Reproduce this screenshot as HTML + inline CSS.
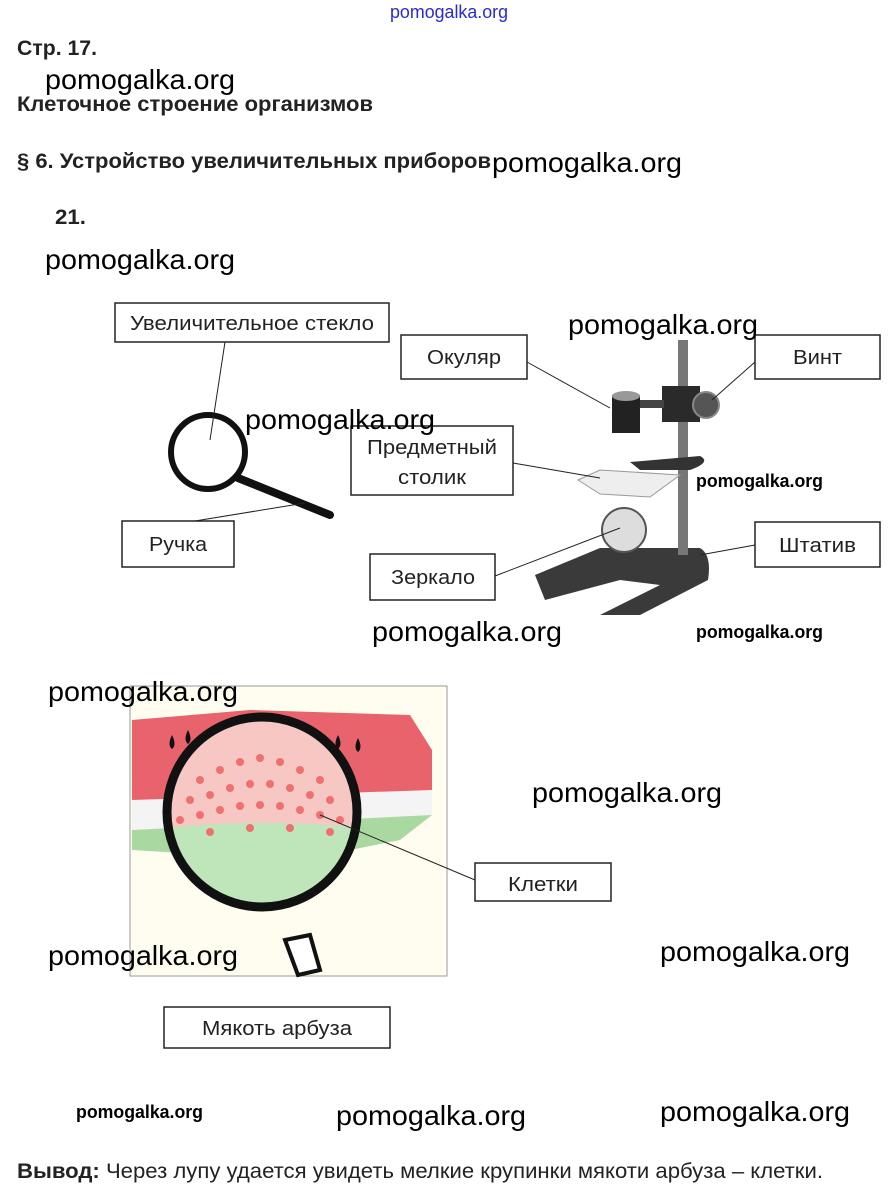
<!DOCTYPE html>
<html><head><meta charset="utf-8"><style>
body{margin:0;background:#fff;}
svg{display:block;font-family:"Liberation Sans",sans-serif;}
.wm{font-size:28px;fill:#000;}
.ws{font-size:18px;font-weight:bold;fill:#000;}
.lb{font-size:20px;fill:#222;}
.h{font-size:21px;font-weight:bold;fill:#222;}
</style></head><body>
<svg width="896" height="1204" viewBox="0 0 896 1204">
<defs><clipPath id="lens"><circle cx="262" cy="812" r="95"/></clipPath></defs>
<rect width="896" height="1204" fill="#fff"/>
<text x="390" y="18" font-size="18" fill="#2a2ad0" textLength="118" lengthAdjust="spacingAndGlyphs">pomogalka.org</text>
<text class="h" x="17" y="55" textLength="80" lengthAdjust="spacingAndGlyphs">Стр. 17.</text>
<text class="wm" x="45" y="89" textLength="190" lengthAdjust="spacingAndGlyphs">pomogalka.org</text>
<text class="h" x="17" y="111" textLength="356" lengthAdjust="spacingAndGlyphs">Клеточное строение организмов</text>
<text class="h" x="17" y="168" textLength="474" lengthAdjust="spacingAndGlyphs">§ 6. Устройство увеличительных приборов</text>
<text class="wm" x="492" y="172" textLength="190" lengthAdjust="spacingAndGlyphs">pomogalka.org</text>
<text class="h" x="55" y="224" textLength="31" lengthAdjust="spacingAndGlyphs">21.</text>
<text class="wm" x="45" y="269" textLength="190" lengthAdjust="spacingAndGlyphs">pomogalka.org</text>

<!-- magnifier -->
<line x1="238" y1="478" x2="330" y2="515" stroke="#111" stroke-width="8" stroke-linecap="round"/>
<circle cx="208" cy="452" r="37" fill="#fff" stroke="#111" stroke-width="6"/>

<!-- microscope -->
<path d="M535 575 L600 548 L700 548 Q712 555 708 580 L640 615 L600 615 L660 585 L620 580 L545 600 Z" fill="#3a3a3a"/>
<rect x="678" y="340" width="10" height="215" fill="#777"/>
<rect x="662" y="386" width="38" height="36" fill="#2a2a2a"/>
<circle cx="706" cy="405" r="13" fill="#555" stroke="#888" stroke-width="2"/>
<rect x="636" y="400" width="28" height="8" fill="#444"/>
<rect x="612" y="395" width="28" height="38" fill="#222"/>
<ellipse cx="626" cy="396" rx="14" ry="5" fill="#999"/>
<path d="M630 462 L700 456 Q712 462 690 470 L640 470 Z" fill="#333"/>
<path d="M578 480 L600 470 L680 475 L650 497 L600 494 Z" fill="#eee" stroke="#999"/>
<circle cx="624" cy="530" r="22" fill="#ddd" stroke="#555" stroke-width="2"/>

<!-- boxes -->
<g fill="#fff" stroke="#222" stroke-width="1.5">
<rect x="115" y="303" width="274" height="39"/>
<rect x="401" y="335" width="126" height="44"/>
<rect x="755" y="335" width="125" height="44"/>
<rect x="351" y="426" width="162" height="69"/>
<rect x="122" y="521" width="112" height="46"/>
<rect x="370" y="554" width="125" height="46"/>
<rect x="755" y="522" width="125" height="45"/>
<rect x="475" y="863" width="136" height="38"/>
<rect x="164" y="1007" width="226" height="41"/>
</g>
<g stroke="#222" stroke-width="1">
<line x1="225" y1="342" x2="210" y2="440"/>
<line x1="195" y1="521" x2="305" y2="503"/>
<line x1="527" y1="362" x2="610" y2="408"/>
<line x1="755" y1="362" x2="712" y2="400"/>
<line x1="513" y1="463" x2="600" y2="478"/>
<line x1="495" y1="576" x2="620" y2="528"/>
<line x1="755" y1="545" x2="700" y2="555"/>
</g>
<g class="lb">
<text class="lb" x="130" y="330" textLength="244" lengthAdjust="spacingAndGlyphs">Увеличительное стекло</text>
<text class="lb" x="427" y="364" textLength="74" lengthAdjust="spacingAndGlyphs">Окуляр</text>
<text class="lb" x="793" y="364" textLength="49" lengthAdjust="spacingAndGlyphs">Винт</text>
<text class="lb" x="367" y="454" textLength="130" lengthAdjust="spacingAndGlyphs">Предметный</text>
<text class="lb" x="398" y="484" textLength="68" lengthAdjust="spacingAndGlyphs">столик</text>
<text class="lb" x="149" y="551" textLength="58" lengthAdjust="spacingAndGlyphs">Ручка</text>
<text class="lb" x="391" y="584" textLength="84" lengthAdjust="spacingAndGlyphs">Зеркало</text>
<text class="lb" x="779" y="552" textLength="77" lengthAdjust="spacingAndGlyphs">Штатив</text>
</g>
<text class="wm" x="568" y="334" textLength="190" lengthAdjust="spacingAndGlyphs">pomogalka.org</text>
<text class="wm" x="245" y="429" textLength="190" lengthAdjust="spacingAndGlyphs">pomogalka.org</text>
<text class="ws" x="696" y="487" textLength="127" lengthAdjust="spacingAndGlyphs">pomogalka.org</text>
<text class="wm" x="372" y="641" textLength="190" lengthAdjust="spacingAndGlyphs">pomogalka.org</text>
<text class="ws" x="696" y="638" textLength="127" lengthAdjust="spacingAndGlyphs">pomogalka.org</text>

<!-- watermelon -->
<rect x="130" y="686" width="317" height="290" fill="#fffdf0" stroke="#999"/>
<path d="M132 720 L250 710 L410 715 L432 750 L432 790 L360 800 L200 805 L132 800 Z" fill="#e8636b"/>
<path d="M132 800 L432 790 L432 815 L132 830 Z" fill="#f4f4f4"/>
<path d="M132 830 L432 815 L400 840 L300 860 L132 850 Z" fill="#a9d8a0"/>
<g clip-path="url(#lens)">
<rect x="160" y="710" width="210" height="210" fill="#f7c7c4"/>
<path d="M160 828 Q262 818 370 828 L370 920 L160 920 Z" fill="#bfe6bb"/>
</g>
<g fill="#f07070">
<circle cx="200" cy="780" r="4"/><circle cx="220" cy="770" r="4"/><circle cx="240" cy="762" r="4"/><circle cx="260" cy="758" r="4"/><circle cx="280" cy="762" r="4"/><circle cx="300" cy="770" r="4"/><circle cx="320" cy="780" r="4"/>
<circle cx="190" cy="800" r="4"/><circle cx="210" cy="795" r="4"/><circle cx="230" cy="788" r="4"/><circle cx="250" cy="784" r="4"/><circle cx="270" cy="784" r="4"/><circle cx="290" cy="788" r="4"/><circle cx="310" cy="795" r="4"/><circle cx="330" cy="800" r="4"/>
<circle cx="180" cy="820" r="4"/><circle cx="200" cy="815" r="4"/><circle cx="220" cy="810" r="4"/><circle cx="240" cy="806" r="4"/><circle cx="260" cy="805" r="4"/><circle cx="280" cy="806" r="4"/><circle cx="300" cy="810" r="4"/><circle cx="320" cy="815" r="4"/><circle cx="340" cy="820" r="4"/>
<circle cx="210" cy="832" r="4"/><circle cx="250" cy="828" r="4"/><circle cx="290" cy="828" r="4"/><circle cx="330" cy="832" r="4"/>
</g>
<circle cx="262" cy="812" r="95" fill="none" stroke="#111" stroke-width="9"/>
<path d="M285 940 L310 935 L320 970 L298 975 Z" fill="#fff" stroke="#111" stroke-width="4"/>
<path d="M172 735 q5 10 0 14 q-5 -4 0 -14 Z M188 730 q5 10 0 14 q-5 -4 0 -14 Z M338 735 q5 10 0 14 q-5 -4 0 -14 Z M358 738 q5 10 0 14 q-5 -4 0 -14 Z" fill="#111"/>
<line x1="475" y1="880" x2="320" y2="815" stroke="#222" stroke-width="1"/>
<text class="lb" x="508" y="891" textLength="70" lengthAdjust="spacingAndGlyphs">Клетки</text>
<text class="lb" x="202" y="1035" textLength="150" lengthAdjust="spacingAndGlyphs">Мякоть арбуза</text>
<text class="wm" x="48" y="701" textLength="190" lengthAdjust="spacingAndGlyphs">pomogalka.org</text>
<text class="wm" x="532" y="802" textLength="190" lengthAdjust="spacingAndGlyphs">pomogalka.org</text>
<text class="wm" x="48" y="965" textLength="190" lengthAdjust="spacingAndGlyphs">pomogalka.org</text>
<text class="wm" x="660" y="961" textLength="190" lengthAdjust="spacingAndGlyphs">pomogalka.org</text>
<text class="ws" x="76" y="1118" textLength="127" lengthAdjust="spacingAndGlyphs">pomogalka.org</text>
<text class="wm" x="336" y="1125" textLength="190" lengthAdjust="spacingAndGlyphs">pomogalka.org</text>
<text class="wm" x="660" y="1121" textLength="190" lengthAdjust="spacingAndGlyphs">pomogalka.org</text>
<text x="17" y="1178" font-size="21" fill="#222" textLength="806" lengthAdjust="spacingAndGlyphs"><tspan font-weight="bold">Вывод:</tspan> Через лупу удается увидеть мелкие крупинки мякоти арбуза – клетки.</text>
</svg>
</body></html>
